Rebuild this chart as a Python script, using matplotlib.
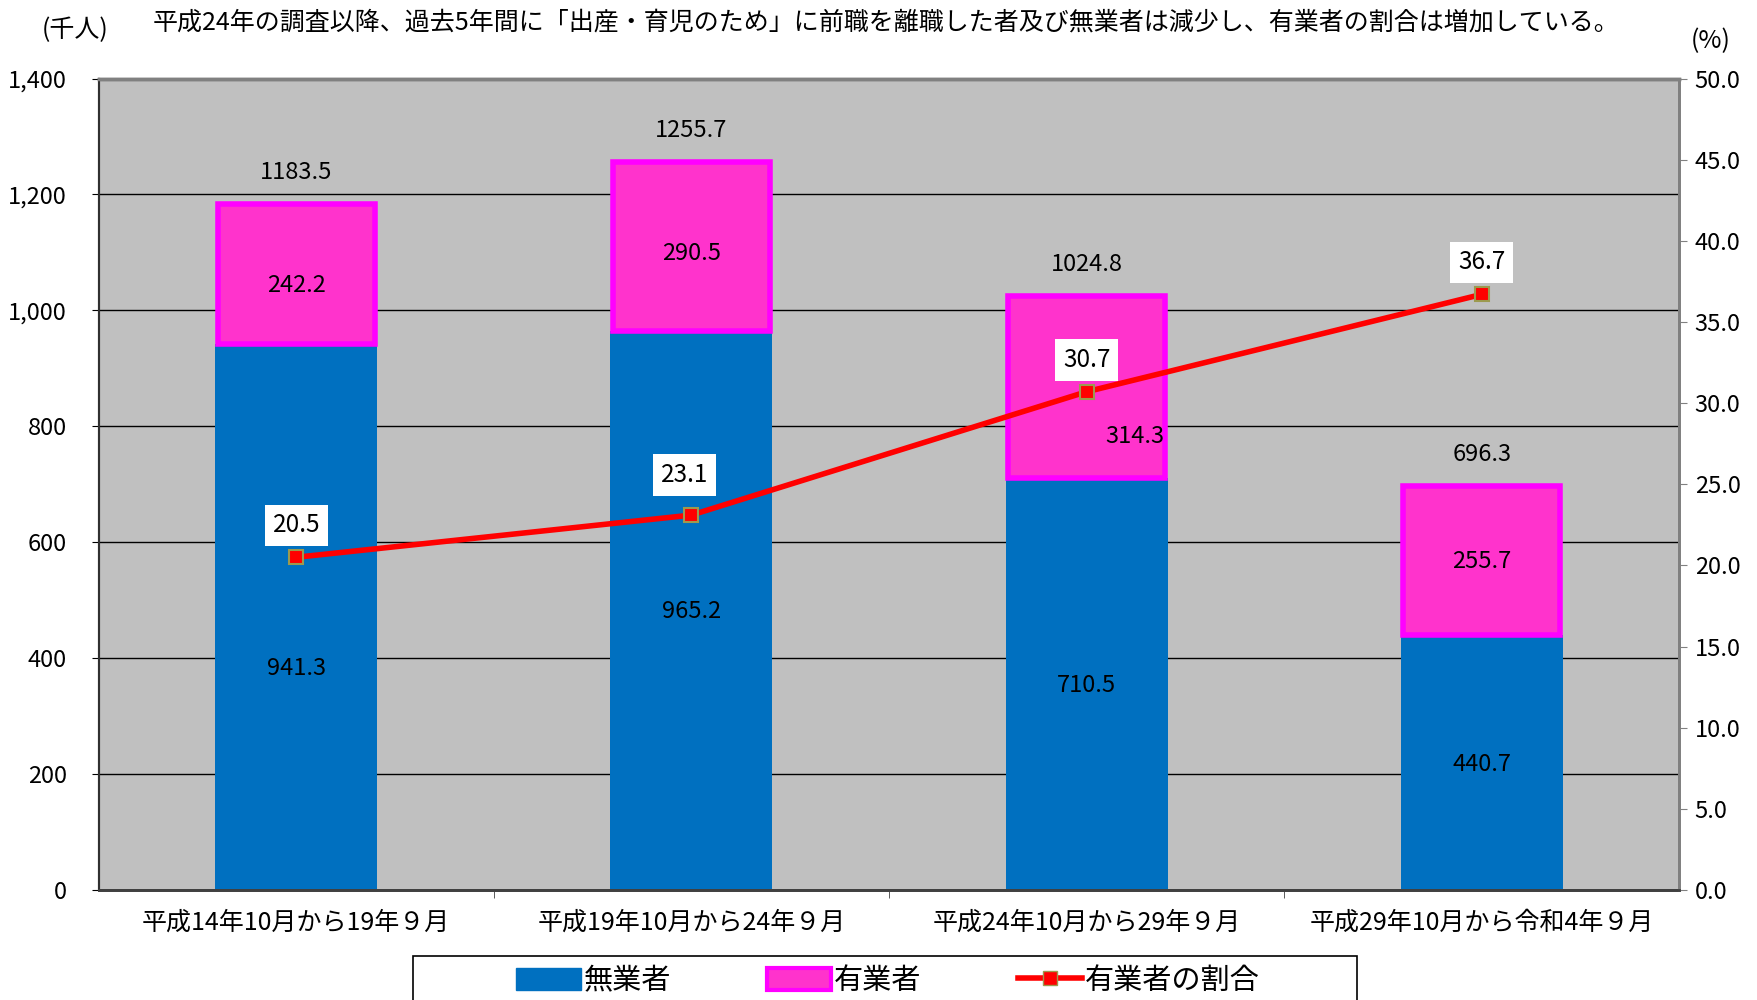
import matplotlib
matplotlib.use('Agg')
import matplotlib.pyplot as plt
from matplotlib.patches import Rectangle, Patch
from matplotlib.lines import Line2D

plt.rcParams['font.family'] = ['Noto Sans CJK JP', 'DejaVu Sans']

# data
periods = ['平成14年10月から19年９月', '平成19年10月から24年９月',
           '平成24年10月から29年９月', '平成29年10月から令和4年９月']
mugyo = [941.3, 965.2, 710.5, 440.7]      # 無業者
yugyo = [242.2, 290.5, 314.3, 255.7]      # 有業者
totals = [1183.5, 1255.7, 1024.8, 696.3]
ratio = [20.5, 23.1, 30.7, 36.7]          # 有業者の割合 (%)
left_ticks = [0, 200, 400, 600, 800, 1000, 1200, 1400]
right_ticks = [0, 5, 10, 15, 20, 25, 30, 35, 40, 45, 50]

title = ('平成24年の調査以降、過去5年間に「出産・育児のため」に前職を離職した者'
         '及び無業者は減少し、有業者の割合は増加している。')

# label placement tweaks (as in the original chart)
blue_dy = [-88, -2, -3, -3]
pink_dx = [0, 0, 0.122, 0]
pink_dy = [-20, -13, -86, -1]
ratio_dx = [0, -5, 0, 0]
ratio_dy = [23, 29, 23, 23]

fig = plt.figure(figsize=(17.58, 10), dpi=100)
ax = fig.add_axes([0.0561, 0.110, 0.8992, 0.8115])
ax.set_facecolor('#C0C0C0')

x = list(range(len(periods)))
w = 0.41
ax.bar(x, mugyo, width=w, color='#0070C0', zorder=2)
ax.bar(x, yugyo, bottom=mugyo, width=w - 0.012, color='#FF33CC',
       edgecolor='#FF00FF', linewidth=4, zorder=2)

ax.set_xlim(-0.5, 3.5)
ax.set_ylim(0, 1400)
ax.set_yticks(left_ticks)
ax.set_yticklabels(['{:,}'.format(t) for t in left_ticks])
ax.yaxis.grid(True, color='black', linewidth=1)
ax.set_axisbelow(True)
ax.set_xticks(x)
ax.set_xticklabels(periods, fontsize=18)
ax.set_xticks([0.5, 1.5, 2.5], minor=True)
ax.tick_params(axis='x', which='major', length=0, pad=14)
ax.tick_params(axis='x', which='minor', length=6, color='#404040', direction='out')
ax.tick_params(axis='y', length=5, pad=18, labelsize=17, direction='out')

for i in x:
    ax.annotate(f'{totals[i]}', (i, totals[i]), xytext=(0, 23),
                textcoords='offset points', ha='center', va='center', fontsize=17)
    ax.text(i, mugyo[i] / 2 + blue_dy[i], f'{mugyo[i]}', ha='center',
            va='center', fontsize=17, zorder=3)
    ax.text(i + pink_dx[i], mugyo[i] + yugyo[i] / 2 + pink_dy[i], f'{yugyo[i]}',
            ha='center', va='center', fontsize=17, zorder=3)

ax2 = ax.twinx()
ax2.set_ylim(0, 50)
ax2.set_yticks(right_ticks)
ax2.set_yticklabels(['%.1f' % t for t in right_ticks])
ax2.tick_params(axis='y', length=6, color='#808080', pad=5, labelsize=17)
ax2.plot(x, ratio, color='red', linewidth=4, marker='s', markersize=9.5,
         markerfacecolor='red', markeredgecolor='#9C9A4E', markeredgewidth=1.5,
         zorder=5)
for i in x:
    ax2.annotate(f'{ratio[i]}', (i, ratio[i]), xytext=(ratio_dx[i], ratio_dy[i]),
                 textcoords='offset points', ha='center', va='center',
                 fontsize=17.5,
                 bbox=dict(boxstyle='square,pad=0.32', fc='white', ec='none'))

for a in (ax, ax2):
    a.spines['top'].set_color('#808080')
    a.spines['top'].set_linewidth(2.5)
    a.spines['right'].set_color('#808080')
    a.spines['right'].set_linewidth(2)
    a.spines['left'].set_color('#303030')
    a.spines['left'].set_linewidth(1.5)
    a.spines['bottom'].set_color('#404040')
    a.spines['bottom'].set_linewidth(2)

fig.text(153 / 1758, 1 - 22 / 1000, title, ha='left', va='center', fontsize=18)
fig.text(75 / 1758, 1 - 30 / 1000, '(千人)', ha='center', va='center', fontsize=18)
fig.text(1711 / 1758, 1 - 41 / 1000, '(%)', ha='center', va='center', fontsize=18)

# legend
fig.patches.append(Rectangle((413 / 1758, -0.01), (1357 - 413) / 1758, 0.054,
                             transform=fig.transFigure, facecolor='white',
                             edgecolor='black', linewidth=1.2))
handles = [Patch(facecolor='#0070C0', edgecolor='#0070C0'),
           Patch(facecolor='#FF33CC', edgecolor='#FF00FF', linewidth=3),
           Line2D([], [], color='red', linewidth=4, marker='s', markersize=10,
                  markerfacecolor='red', markeredgecolor='#9C9A4E')]
fig.legend(handles, ['無業者', '有業者', '有業者の割合'], loc='center',
           bbox_to_anchor=(888 / 1758, 0.019), ncol=3, frameon=False,
           fontsize=21, handlelength=2.2, handleheight=0.8, handletextpad=0.1,
           columnspacing=3.3)

fig.savefig('out.png', dpi=100)
